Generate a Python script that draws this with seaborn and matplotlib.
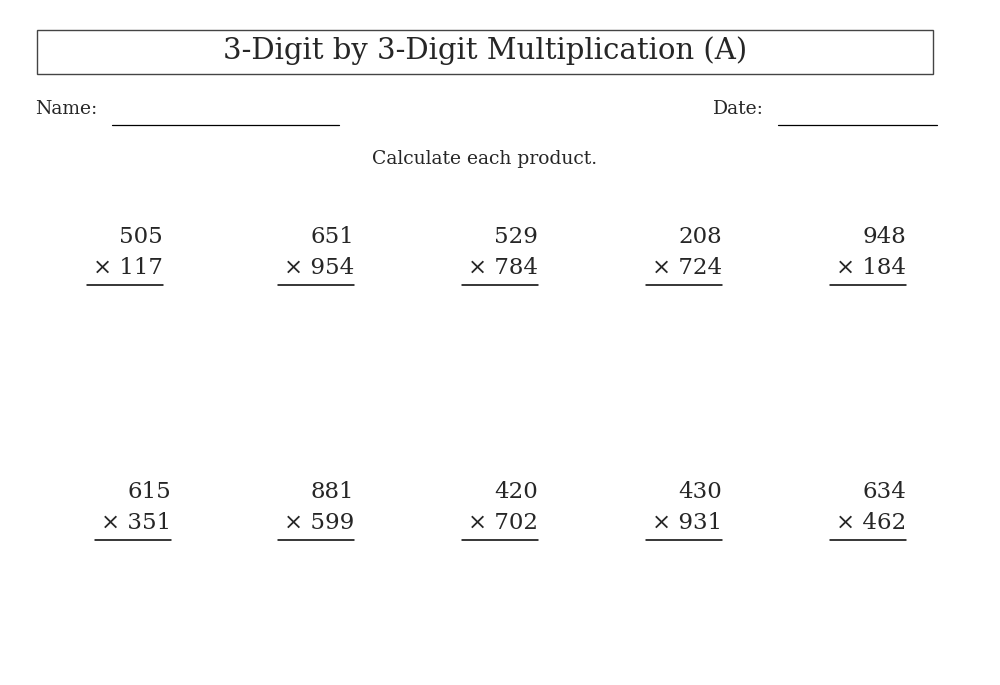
import matplotlib
matplotlib.use("Agg")
import matplotlib.pyplot as plt
import seaborn as sns

sns.set_style("white")

title = "3-Digit by 3-Digit Multiplication (A)"
top_numbers = [505, 651, 529, 208, 948, 615, 881, 420, 430, 634]
bottom_numbers = [117, 954, 784, 724, 184, 351, 599, 702, 931, 462]

font = "DejaVu Serif"

fig = plt.figure(figsize=(10, 6.85), dpi=100)
ax = fig.add_axes([0, 0, 1, 1])
ax.set_xlim(0, 1000)
ax.set_ylim(685, 0)
ax.axis("off")

# title box
ax.add_patch(plt.Rectangle((37, 30), 896, 44, fill=False, edgecolor="#444444", linewidth=1))
ax.text(485, 51, title, ha="center", va="center", fontsize=21, family=font)

ax.text(35, 109, "Name:", ha="left", va="center", fontsize=13.5, family=font)
ax.plot([112, 339], [125, 125], color="black", linewidth=0.9)
ax.text(713, 109, "Date:", ha="left", va="center", fontsize=13.5, family=font)
ax.plot([778, 937], [125, 125], color="black", linewidth=0.9)
ax.text(485, 159, "Calculate each product.", ha="center", va="center", fontsize=13.5, family=font)

right_edges = [163, 354, 538, 722, 906, 171, 354, 538, 722, 906]
for i, (a, b) in enumerate(zip(top_numbers, bottom_numbers)):
    row = i // 5
    y0 = 237 + row * 255
    x = right_edges[i]
    ax.text(x, y0, str(a), ha="right", va="center", fontsize=16.5, family=font)
    ax.text(x, y0 + 31, "\u00d7 " + str(b), ha="right", va="center", fontsize=16.5, family=font)
    ax.plot([x - 76, x], [y0 + 48, y0 + 48], color="black", linewidth=1.1)

fig.savefig("out.png", dpi=100)
